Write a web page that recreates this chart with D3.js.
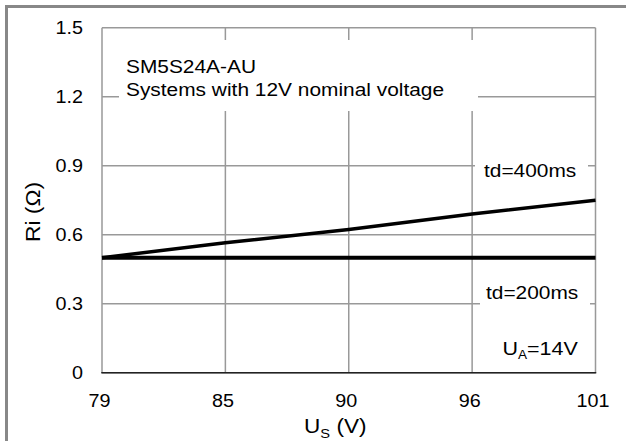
<!DOCTYPE html>
<html>
<head>
<meta charset="utf-8">
<script src="https://cdn.jsdelivr.net/npm/d3@7"></script>
<style>
  body { margin: 0; background: #fff; }
  text { font-family: "Liberation Sans", Arial, sans-serif; fill: #000; }
</style>
</head>
<body>
<div id="chart"></div>
<script>
var xLabels = ["79", "85", "90", "96", "101"],
	yTicks = [0, 0.3, 0.6, 0.9, 1.2, 1.5],
	td400 = [0.5, 0.565, 0.623, 0.69, 0.75],
	td200 = [0.5, 0.5, 0.5, 0.5, 0.5];

var W = 626, H = 441,
	plotL = 102, plotR = 595.5, plotT = 27.7, plotB = 372.7,
	sx = 1.13; // text in the picture is a little wide

var svg = d3.select("#chart").append("svg")
	.attr("width", W)
	.attr("height", H);

// outer frame: only left and top edges
svg.append("rect").attr("x", 5).attr("y", 5).attr("width", 3).attr("height", H - 5).attr("fill", "#888");
svg.append("rect").attr("x", 5).attr("y", 5).attr("width", W - 5).attr("height", 3).attr("fill", "#888");

var x = d3.scalePoint().domain(xLabels).range([plotL, plotR]);
var y = d3.scaleLinear().domain([0, 1.5]).range([plotB, plotT]);

function wide(sel, px, py) {
	return sel.attr("transform", "translate(" + px + "," + py + ") scale(" + sx + ",1)");
}

// grid
svg.selectAll(".vgrid")
	.data(xLabels)
	.enter().append("line")
	.attr("x1", function(d) { return x(d); })
	.attr("x2", function(d) { return x(d); })
	.attr("y1", plotT).attr("y2", plotB)
	.attr("stroke", "#999").attr("stroke-width", 1.5);

svg.selectAll(".hgrid")
	.data(yTicks)
	.enter().append("line")
	.attr("x1", plotL).attr("x2", plotR)
	.attr("y1", function(d) { return y(d); })
	.attr("y2", function(d) { return y(d); })
	.attr("stroke", "#999").attr("stroke-width", 1.5);

// bottom axis line
svg.append("line")
	.attr("x1", plotL - 0.75).attr("x2", plotR + 0.75)
	.attr("y1", plotB).attr("y2", plotB)
	.attr("stroke", "#222").attr("stroke-width", 1.6);

// tick labels
svg.selectAll(".ylab")
	.data(yTicks)
	.enter().append("text")
	.text(function(d) { return d === 0 ? "0" : d.toFixed(1); })
	.attr("font-size", 17.5)
	.attr("text-anchor", "end")
	.attr("dy", "0.38em")
	.each(function(d) { wide(d3.select(this), 83, y(d)); });

svg.selectAll(".xlab")
	.data(xLabels)
	.enter().append("text")
	.text(function(d) { return d; })
	.attr("font-size", 17.5)
	.attr("text-anchor", "middle")
	.each(function(d) { wide(d3.select(this), x(d) - 2.5, 406.5); });

// white boxes behind annotations
var boxes = [[119, 40, 359, 71], [475, 152, 113, 33], [480, 283, 110, 30]];
svg.selectAll(".box")
	.data(boxes)
	.enter().append("rect")
	.attr("x", function(d) { return d[0]; })
	.attr("y", function(d) { return d[1]; })
	.attr("width", function(d) { return d[2]; })
	.attr("height", function(d) { return d[3]; })
	.attr("fill", "#fff");

// curves
var line = d3.line()
	.x(function(d, i) { return x(xLabels[i]); })
	.y(function(d) { return y(d); });

svg.append("path").datum(td200)
	.attr("d", line).attr("fill", "none")
	.attr("stroke", "#000").attr("stroke-width", 4);
svg.append("path").datum(td400)
	.attr("d", line).attr("fill", "none")
	.attr("stroke", "#000").attr("stroke-width", 3.5);

// annotations
wide(svg.append("text").attr("font-size", 18.5).text("SM5S24A-AU"), 126, 72.7);
wide(svg.append("text").attr("font-size", 18.5).text("Systems with 12V nominal voltage"), 126, 95.5);
wide(svg.append("text").attr("font-size", 18.5).text("td=400ms"), 484, 176.7);
wide(svg.append("text").attr("font-size", 18.5).text("td=200ms"), 486, 299);

var ua = wide(svg.append("text").attr("font-size", 19), 502.5, 355.3);
ua.append("tspan").text("U");
ua.append("tspan").attr("font-size", 12).attr("dy", 4).text("A");
ua.append("tspan").attr("dy", -4).text("=14V");

// axis titles
var xt = wide(svg.append("text").attr("font-size", 20), 304, 433.3);
xt.append("tspan").text("U");
xt.append("tspan").attr("font-size", 13).attr("dy", 5).text("S");
xt.append("tspan").attr("dy", -5).text(" (V)");

svg.append("text")
	.attr("font-size", 19)
	.attr("text-anchor", "middle")
	.attr("transform", "translate(39.5,212) rotate(-90) scale(1.2,1.1)")
	.text("Ri (Ω)");
</script>
</body>
</html>
